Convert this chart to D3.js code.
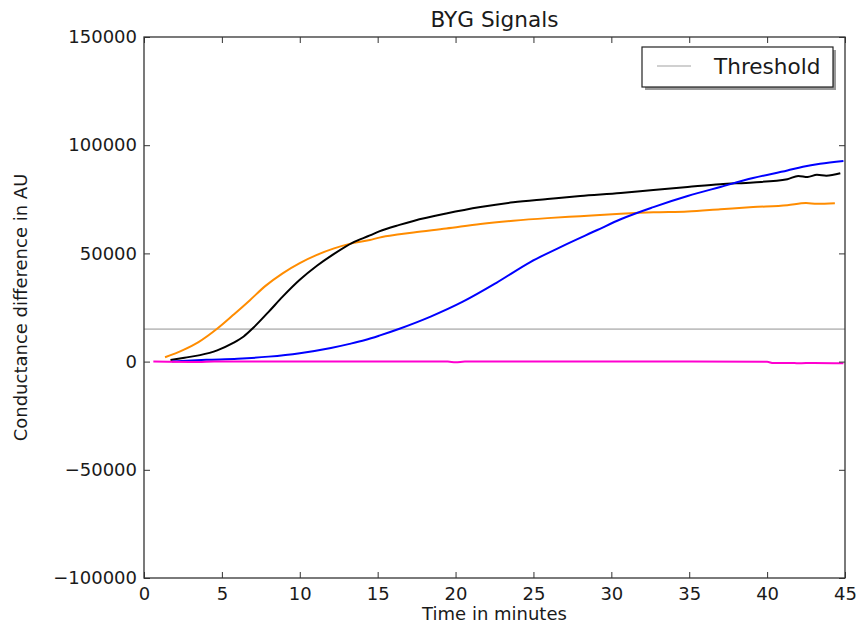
<!DOCTYPE html>
<html>
<head>
<meta charset="utf-8">
<script src="https://cdn.jsdelivr.net/npm/d3@7"></script>
<style>
  body { margin: 0; background: #fff; }
  text { font-family: "DejaVu Sans", sans-serif; fill: #1a1a1a; }
</style>
</head>
<body>
<div id="chart"></div>
<script>
// signal readings, [minute, conductance difference]
const orange = [[1.35, 2000], [2.5, 5300], [3.5, 9000], [4.75, 15500], [5.8, 22000], [6.8, 28400],
  [7.8, 35000], [8.9, 40800], [10, 45500], [11.1, 49300], [12.2, 52300], [13.2, 54400], [14.5, 56200],
  [15.1, 57300], [16.4, 58800], [17.3, 59700], [19.4, 61500], [21.6, 63600], [23.7, 65100], [25.9, 66300],
  [28, 67200], [30.6, 68300], [32.7, 69000], [34.9, 69400], [37, 70400], [39.1, 71400], [41.3, 72300],
  [42.5, 73300], [43.2, 72900], [44.35, 73200]];
const black = [[1.7, 700], [2.6, 1800], [3.6, 3000], [4.7, 5200], [5.7, 8500], [6.4, 11600], [7, 15500],
  [8, 23000], [8.9, 30000], [10, 37800], [11.1, 44300], [12.2, 49800], [13.4, 55000], [14.5, 58300],
  [15.1, 60200], [16.4, 63200], [17.3, 65000], [19.4, 68400], [21.6, 71400], [23.7, 73600], [25.9, 75100],
  [28, 76500], [30.6, 77900], [32.7, 79300], [34.9, 80700], [37, 82000], [39.1, 82800], [41.3, 84300],
  [42, 85800], [42.6, 85300], [43.2, 86300], [43.8, 85900], [44.7, 87000]];
const blue = [[1.8, 0], [4, 800], [6, 1300], [8, 2300], [10, 3900], [12, 6300], [13.2, 8200], [14.2, 10000],
  [15.1, 12000], [16.4, 15200], [18.4, 20800], [20.5, 27800], [22.6, 36300], [24.8, 46000], [26.9, 53500],
  [29.1, 60800], [30.6, 65800], [32.7, 71400], [34.9, 76500], [37, 80700], [39.1, 84800], [41.3, 88300],
  [42.3, 90000], [43.4, 91400], [44.9, 92700]];
const magenta = [[0.6, 0], [3.5, -200], [4.5, 0], [10, 0], [17, 100], [19.5, 0], [20, -300], [20.6, 0],
  [30, 0], [35, 0], [40, -100], [40.4, -700], [41.5, -600], [42, -800], [43, -600], [44.9, -800]];
const series = [
  { name: "orange", color: "#ff8c00", values: orange },
  { name: "black", color: "#000000", values: black },
  { name: "blue", color: "#0000ff", values: blue },
  { name: "magenta", color: "#ff00d0", values: magenta }
];
const threshold = 15000;
const xTicks = [0, 5, 10, 15, 20, 25, 30, 35, 40, 45];
const yTicks = [-100000, -50000, 0, 50000, 100000, 150000];

const width = 859;
const height = 627;
const margin = { top: 37, right: 14, bottom: 49, left: 144 };
const w = width - margin.left - margin.right;
const h = height - margin.top - margin.bottom;

const svg = d3.select("#chart")
  .append("svg")
  .attr("width", width)
  .attr("height", height);

const g = svg.append("g")
  .attr("transform", `translate(${margin.left},${margin.top})`);

const x = d3.scaleLinear().domain([0, 45]).range([0, w]);
const y = d3.scaleLinear().domain([-100000, 150000]).range([h, 0]);

// threshold line
g.append("line")
  .attr("x1", x(0)).attr("x2", x(45))
  .attr("y1", y(threshold)).attr("y2", y(threshold))
  .attr("stroke", "#c0c0c0")
  .attr("stroke-width", 1.6);

const line = d3.line()
  .x(d => x(d[0]))
  .y(d => y(d[1]))
  .curve(d3.curveMonotoneX);

g.selectAll(".series")
  .data(series)
  .enter()
  .append("path")
  .attr("class", "series")
  .attr("fill", "none")
  .attr("stroke", d => d.color)
  .attr("stroke-width", 2)
  .attr("d", d => line(d.values));

// axes, ticks pointing inward
const fmt = d => d < 0 ? "\u2212" + Math.abs(d) : String(d);

g.append("g")
  .attr("transform", `translate(0,${h})`)
  .call(d3.axisBottom(x).tickValues(xTicks).tickSize(-6).tickPadding(9).tickFormat(d3.format("d")));
g.append("g")
  .call(d3.axisTop(x).tickValues(xTicks).tickSize(-6).tickFormat(""));
g.append("g")
  .call(d3.axisLeft(y).tickValues(yTicks).tickSize(-6).tickPadding(7).tickFormat(fmt));
g.append("g")
  .attr("transform", `translate(${w},0)`)
  .call(d3.axisRight(y).tickValues(yTicks).tickSize(-6).tickFormat(""));

g.selectAll(".domain").remove();
g.selectAll(".tick line").attr("stroke", "#333").attr("stroke-width", 1);
g.selectAll(".tick text").style("font-size", "18px").attr("fill", "#1a1a1a");

g.append("rect")
  .attr("width", w).attr("height", h)
  .attr("fill", "none")
  .attr("stroke", "#333")
  .attr("stroke-width", 1.3);

// labels
svg.append("text")
  .attr("x", margin.left + w / 2)
  .attr("y", 27)
  .attr("text-anchor", "middle")
  .style("font-size", "21.6px")
  .text("BYG Signals");

svg.append("text")
  .attr("x", margin.left + w / 2)
  .attr("y", 620)
  .attr("text-anchor", "middle")
  .style("font-size", "18px")
  .text("Time in minutes");

svg.append("text")
  .attr("transform", `translate(27,${margin.top + h / 2}) rotate(-90)`)
  .attr("text-anchor", "middle")
  .style("font-size", "18px")
  .text("Conductance difference in AU");

// legend
const legend = svg.append("g").attr("transform", "translate(642,47)");
legend.append("rect")
  .attr("x", 3).attr("y", 3)
  .attr("width", 191).attr("height", 40)
  .attr("fill", "#9a9a9a");
legend.append("rect")
  .attr("width", 191).attr("height", 40)
  .attr("fill", "#fff")
  .attr("stroke", "#222")
  .attr("stroke-width", 1.2);
legend.append("line")
  .attr("x1", 15).attr("x2", 49)
  .attr("y1", 19).attr("y2", 19)
  .attr("stroke", "#c0c0c0")
  .attr("stroke-width", 1.6);
legend.append("text")
  .attr("x", 72)
  .attr("y", 27)
  .style("font-size", "21.6px")
  .text("Threshold");
</script>
</body>
</html>
